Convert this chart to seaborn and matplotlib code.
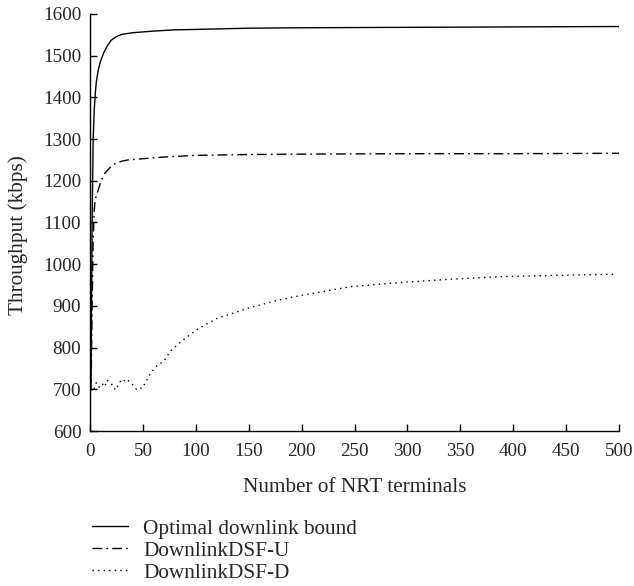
import numpy as np
import pandas as pd
import matplotlib
matplotlib.use("Agg")
import matplotlib.pyplot as plt
import seaborn as sns

series_names = ["Optimal downlink bound", "DownlinkDSF-U", "DownlinkDSF-D"]

opt_x = [1, 2, 3, 4, 5, 6, 8, 10, 13, 16, 20, 25, 30, 40, 50, 60, 80, 100, 150, 200, 300, 400, 500]
opt_y = [720, 1100, 1300, 1370, 1410, 1438, 1468, 1487, 1507, 1522, 1537, 1546, 1551, 1555, 1557, 1559, 1562, 1563, 1566, 1567, 1568, 1569, 1570]

dsfu_x = [1, 2, 3, 4, 5, 8, 11, 14, 19, 24, 30, 36, 45, 55, 70, 100, 150, 200, 300, 400, 500]
dsfu_y = [700, 900, 1060, 1130, 1156, 1180, 1203, 1218, 1232, 1242, 1247, 1250, 1252, 1254, 1257, 1261, 1263, 1264, 1265, 1265, 1266]

dsfd_x = [1, 3, 6, 9, 12, 14, 16, 19, 22, 24, 27, 30, 33, 35, 38, 40, 44, 47, 49, 52, 55, 58, 63, 70, 76, 85, 95, 104, 120, 150, 175, 199, 246, 293, 340, 388, 435, 496]
dsfd_y = [700, 695, 716, 704, 712, 706, 722, 716, 708, 698, 712, 724, 720, 724, 716, 712, 700, 704, 702, 714, 728, 741, 756, 768, 792, 812, 832, 848, 870, 895, 912, 925, 946, 956, 964, 970, 973, 976]

df = pd.concat([
    pd.DataFrame({"x": opt_x, "y": opt_y, "series": series_names[0]}),
    pd.DataFrame({"x": dsfu_x, "y": dsfu_y, "series": series_names[1]}),
    pd.DataFrame({"x": dsfd_x, "y": dsfd_y, "series": series_names[2]}),
])

x_ticks = [0, 50, 100, 150, 200, 250, 300, 350, 400, 450, 500]
y_ticks = [600, 700, 800, 900, 1000, 1100, 1200, 1300, 1400, 1500, 1600]

sns.set_style("ticks")
plt.rcParams["font.family"] = ["Liberation Serif", "DejaVu Serif"]
fs_tick = 13.8
fs_lab = 15.3

fig = plt.figure(figsize=(6.34, 5.86), dpi=100)
ax = fig.add_axes([90/634, 1-431/586, (619-90)/634, (431-14)/586])

dashes = {series_names[0]: "", series_names[1]: (7, 3, 1.2, 3), series_names[2]: (1, 3)}
sns.lineplot(data=df, x="x", y="y", style="series", dashes=dashes, color="black",
             linewidth=1.0, ax=ax, legend=False, estimator=None, sort=False)

ax.set_xlim(0, 500)
ax.set_ylim(600, 1600)
ax.set_xticks(x_ticks)
ax.set_yticks(y_ticks)
ax.tick_params(direction="in", length=5, width=1, labelsize=fs_tick, color="black")
ax.tick_params(axis="x", pad=9.0)
ax.tick_params(axis="y", pad=6.3)
for s in ["top", "right"]:
    ax.spines[s].set_visible(False)
for s in ["left", "bottom"]:
    ax.spines[s].set_linewidth(1.0)
    ax.spines[s].set_color("black")
ax.set_xlabel("Number of NRT terminals", fontsize=fs_lab)
ax.set_ylabel("Throughput (kbps)", fontsize=fs_lab)
ax.xaxis.set_label_coords(0.5, (431-478)/417)
ax.yaxis.set_label_coords((28-90)/529, 0.47)

handles = ax.get_lines()[:3]
leg = ax.legend(handles, series_names, loc="upper left",
                bbox_to_anchor=(92/634, 1-519/586), bbox_transform=fig.transFigure,
                frameon=False, fontsize=fs_lab, handlelength=1.7, handletextpad=0.7,
                borderpad=0, borderaxespad=0, labelspacing=0.1)

fig.savefig("out.png", dpi=100)
